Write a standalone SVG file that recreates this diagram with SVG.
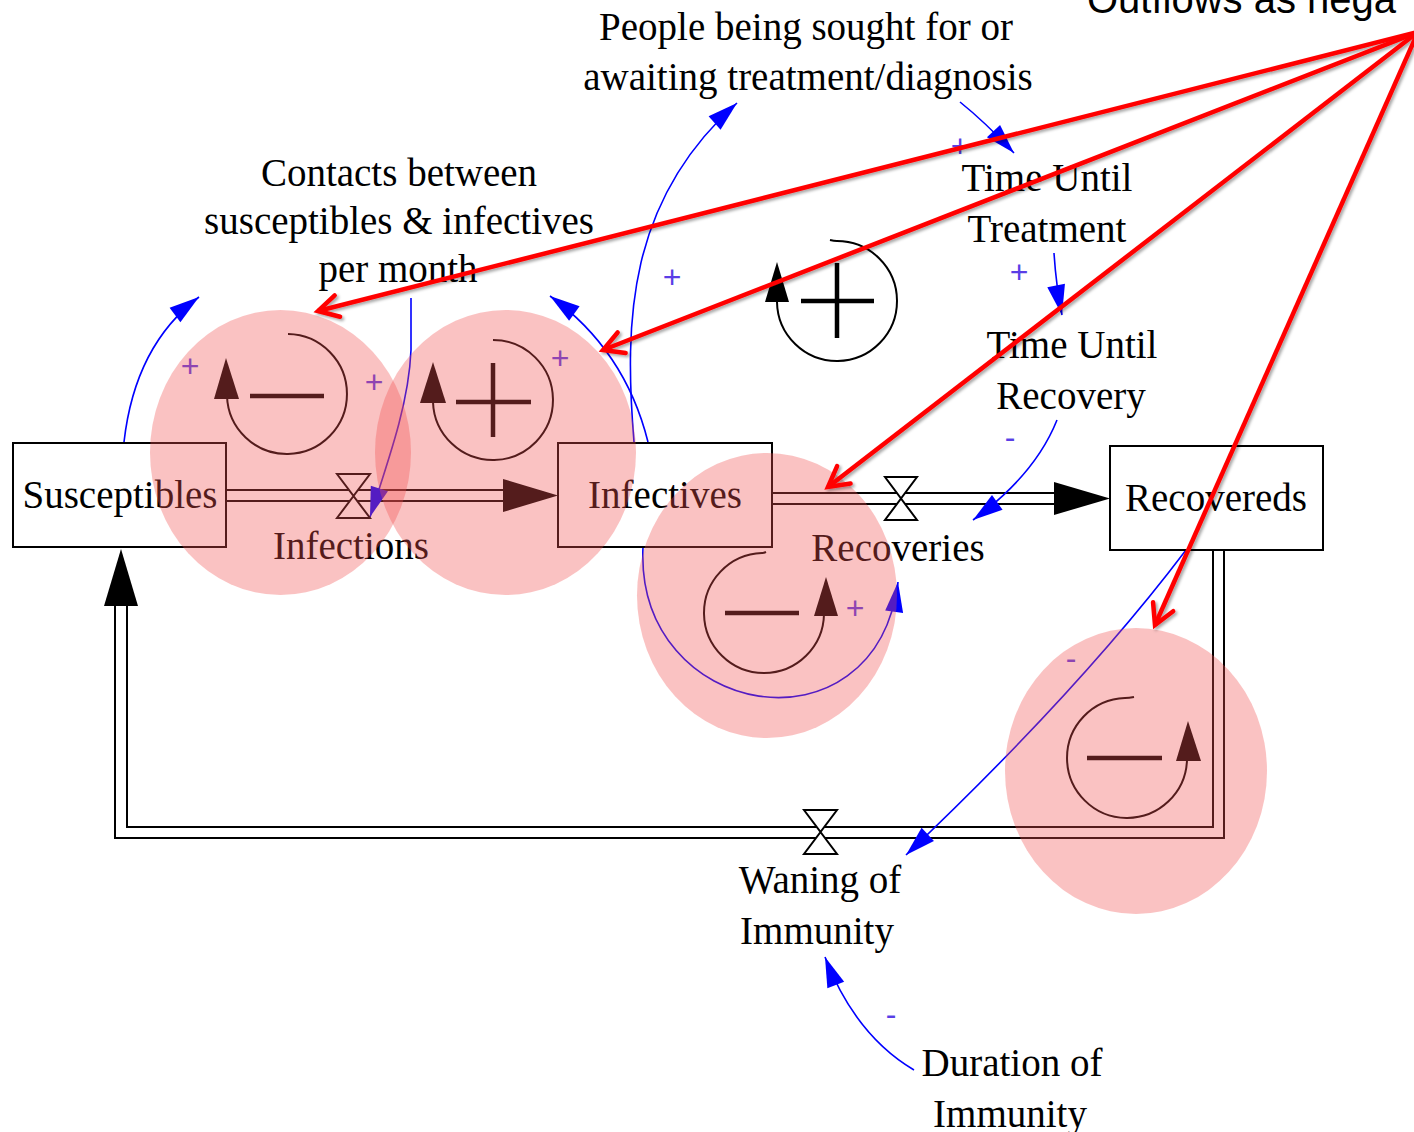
<svg xmlns="http://www.w3.org/2000/svg" width="1414" height="1132" viewBox="0 0 1414 1132">
<style>
.lbl{font-family:"Liberation Serif","Times New Roman",serif;font-size:39px;fill:#000;text-anchor:middle}
.box{fill:#fff;stroke:#000;stroke-width:2}
.pipe{fill:none;stroke:#000;stroke-width:2}
.valve{fill:#fff;stroke:#000;stroke-width:2;stroke-linejoin:miter}
.head{fill:#000}
.link{fill:none;stroke:#0000ff;stroke-width:1.6;marker-end:url(#blueArrow)}
.pol{font-family:"Liberation Sans",Arial,sans-serif;font-size:32px;fill:#5a3ee6;text-anchor:middle}
.loopArc{fill:none;stroke:#000;stroke-width:2}
.sign{fill:none;stroke:#000;stroke-width:4.5}
.pink{fill:rgb(240,80,80);fill-opacity:0.35}
.red{fill:none;stroke:#ff0000;stroke-width:4.5;marker-end:url(#redArrow)}
.note{font-family:"Liberation Sans",Arial,sans-serif;font-size:40px;fill:#000}
</style>
<defs>
<marker id="blueArrow" markerUnits="userSpaceOnUse" orient="auto" markerWidth="34" markerHeight="22" viewBox="-32 -11 34 22" refX="0" refY="0" overflow="visible">
<path d="M0,0 L-30,-9 L-30,9 Z" fill="#0000ff"/>
</marker>
<marker id="redArrow" markerUnits="userSpaceOnUse" orient="auto" markerWidth="30" markerHeight="30" viewBox="-26 -15 30 30" refX="0" refY="0" overflow="visible">
<path d="M-20,-11 L0,0 L-20,11" fill="none" stroke="#ff0000" stroke-width="4.5" stroke-linecap="round" stroke-linejoin="miter"/>
</marker>
<filter id="shadow" x="-10%" y="-10%" width="120%" height="120%">
<feDropShadow dx="2" dy="2" stdDeviation="1.5" flood-color="#000" flood-opacity="0.35"/>
</filter>
</defs>
<rect x="0" y="0" width="1414" height="1132" fill="#fff"/>

<!-- flows / pipes -->
<g id="connectors">
<g id="flow-infections">
<path class="pipe" d="M226,490 H505 M226,501 H505"/>
<polygon class="head" points="558,495.5 503,479 503,512"/>
</g>
<g id="flow-recoveries">
<path class="pipe" d="M772,493 H1056 M772,504 H1056"/>
<polygon class="head" points="1110,498.5 1054,482 1054,515"/>
</g>
<g id="flow-waning">
<path class="pipe" d="M1224,550 V838 H115 V604 M1213,550 V827 H127 V604"/>
<polygon class="head" points="121,549 104,606 138,606"/>
</g>
<g id="links">
<path class="link" d="M124,442 Q135,345 199,297"/>
<path class="link" d="M648,442 Q625,350 550,296"/>
<path class="link" d="M411,298 L411,350 C409,400 392,450 370,517"/>
<path class="link" d="M634,442 C624,320 628,200 737,103"/>
<path class="link" d="M960,102 Q985,122 1014,153"/>
<path class="link" d="M1054,253 Q1056,285 1062,315"/>
<path class="link" d="M1057,420 Q1035,475 973,520"/>
<path class="link" d="M643,547 C635,720 875,760 898,582"/>
<path class="link" d="M1186,550 Q1080,690 906,855"/>
<path class="link" d="M914,1070 Q855,1035 825,957"/>
</g>
</g>

<!-- valves -->
<g id="valve-infections"><path class="valve" d="M337,474 H370 L353.5,496 L370,518 H337 L353.5,496 Z"/></g>
<g id="valve-recoveries"><path class="valve" d="M885,477 H917 L901,498.5 L917,520 H885 L901,498.5 Z"/></g>
<g id="valve-waning"><path class="valve" d="M804,810 H837 L820.5,832 L837,854 H804 L820.5,832 Z"/></g>

<!-- stocks -->
<g id="susceptibles"><rect class="box" x="13" y="443" width="213" height="104"/><text class="lbl" x="120" y="508">Susceptibles</text></g>
<g id="infectives"><rect class="box" x="558" y="443" width="214" height="104"/><text class="lbl" x="665" y="508">Infectives</text></g>
<g id="recovereds"><rect class="box" x="1110" y="446" width="213" height="104"/><text class="lbl" x="1216" y="511">Recovereds</text></g>

<!-- flow labels and auxiliaries -->
<g id="infections"><text class="lbl" x="351" y="559">Infections</text></g>
<g id="recoveries"><text class="lbl" x="898" y="561">Recoveries</text></g>
<g id="waning"><text class="lbl" x="820" y="893">Waning of</text><text class="lbl" x="817" y="944">Immunity</text></g>
<g id="contacts"><text class="lbl" x="399" y="186">Contacts between</text><text class="lbl" x="399" y="234">susceptibles &amp; infectives</text><text class="lbl" x="398" y="282">per month</text></g>
<g id="people"><text class="lbl" x="806" y="40">People being sought for or</text><text class="lbl" x="808" y="90">awaiting treatment/diagnosis</text></g>
<g id="time-until-treatment"><text class="lbl" x="1047" y="191">Time Until</text><text class="lbl" x="1047" y="242">Treatment</text></g>
<g id="time-until-recovery"><text class="lbl" x="1072" y="358">Time Until</text><text class="lbl" x="1071" y="409">Recovery</text></g>
<g id="duration"><text class="lbl" x="1012" y="1076">Duration of</text><text class="lbl" x="1010" y="1127">Immunity</text></g>

<!-- polarities -->
<g id="polarities">
<text class="pol" x="190" y="377">+</text>
<text class="pol" x="374" y="393">+</text>
<text class="pol" x="560" y="369">+</text>
<text class="pol" x="672" y="288">+</text>
<text class="pol" x="960" y="157">+</text>
<text class="pol" x="1019" y="283">+</text>
<text class="pol" x="1010" y="448">-</text>
<text class="pol" x="855" y="619">+</text>
<text class="pol" x="1071" y="669">-</text>
<text class="pol" x="891" y="1025">-</text>
</g>

<!-- loop symbols -->
<g id="loop-b1">
<path class="loopArc" d="M288,334 A60,60 0 1 1 227,396"/>
<polygon class="head" points="226,358 214,399 239,399"/>
<path class="sign" d="M250,396 H324"/>
</g>
<g id="loop-r1">
<path class="loopArc" d="M493,340 A60,60 0 1 1 433,402"/>
<polygon class="head" points="433,362 420,403 446,403"/>
<path class="sign" d="M456,402 H531 M493,363 V437"/>
</g>
<g id="loop-r2">
<path class="loopArc" d="M830,240 Q834,241 837,241 A60,60 0 1 1 777,302"/>
<polygon class="head" points="777,262 765,302 789,302"/>
<path class="sign" d="M801,301 H874 M837,263 V338"/>
</g>
<g id="loop-b2">
<path class="loopArc" d="M766,552 Q764,553 762,553 A60,60 0 1 0 824,614"/>
<polygon class="head" points="826,577 814,616 838,616"/>
<path class="sign" d="M725,613 H799"/>
</g>
<g id="loop-b3">
<path class="loopArc" d="M1134,697 Q1129,698 1125,698 A60,60 0 1 0 1187,760"/>
<polygon class="head" points="1188,721 1176,761 1201,761"/>
<path class="sign" d="M1087,758 H1162"/>
</g>

<!-- highlight ellipses -->
<g id="highlights">
<ellipse class="pink" cx="280.5" cy="452.5" rx="130.5" ry="142.5"/>
<ellipse class="pink" cx="505.5" cy="452.5" rx="130.5" ry="142.5"/>
<ellipse class="pink" cx="767" cy="595.5" rx="130" ry="142.5"/>
<ellipse class="pink" cx="1136" cy="771" rx="131" ry="143"/>
</g>

<!-- annotation -->
<g id="annotation">
<text class="note" x="1087" y="13">Outflows as nega</text>
<g filter="url(#shadow)">
<path class="red" d="M1418,32 L318,311"/>
<path class="red" d="M1418,32 L603,350"/>
<path class="red" d="M1418,32 L828,487"/>
<path class="red" d="M1418,32 L1155,625"/>
</g>
</g>
</svg>
